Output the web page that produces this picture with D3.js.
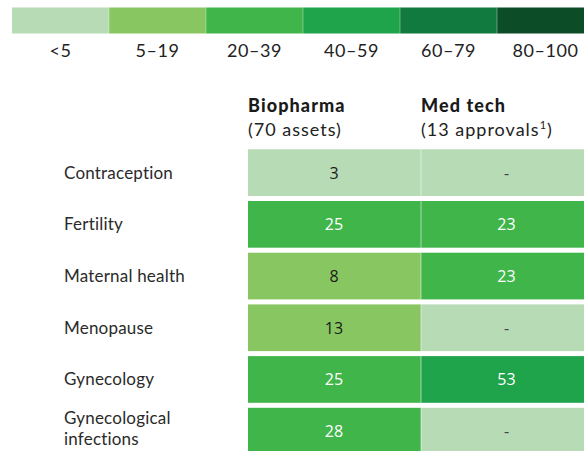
<!DOCTYPE html>
<html><head><meta charset="utf-8">
<script src="https://cdn.jsdelivr.net/npm/d3@7"></script>
<style>body{margin:0;background:#fff;overflow:hidden}svg{display:block}</style>
</head><body>
<script>
const legendLabels = ["<5","5–19","20–39","40–59","60–79","80–100"];
const legendColors = ["#b6dbb5","#88c661","#3fb54a","#1fa34b","#117a3f","#0c4d28"];
const thresholds = [5,20,40,60,80];
const categories = ["Contraception","Fertility","Maternal health","Menopause","Gynecology","Gynecological\ninfections"];
const columns = ["Biopharma","Med tech"];
const columnSub = ["(70 assets)","(13 approvals¹)"];
const biopharma = [3,25,8,13,25,28];
const medtech = [null,23,23,null,53,null];

const W=584,H=451;
const svg=d3.select("body").append("svg").attr("width",W).attr("height",H);
const color=d3.scaleThreshold().domain(thresholds).range(legendColors);
const labelFont="Lato, 'Open Sans', sans-serif";

// legend
const lx=d3.scaleBand().domain(legendLabels).range([12,12+6*97]);
const lg=svg.append("g");
lg.selectAll("rect").data(legendLabels).join("rect")
 .attr("x",d=>lx(d)).attr("y",7.5).attr("width",lx.bandwidth()).attr("height",26)
 .attr("fill",(d,i)=>legendColors[i]);
lg.selectAll("line").data(legendLabels.slice(1)).join("line")
 .attr("x1",d=>lx(d)).attr("x2",d=>lx(d)).attr("y1",7.5).attr("y2",33.5)
 .attr("stroke","rgba(255,255,255,0.35)").attr("stroke-width",1);
lg.selectAll("text").data(legendLabels).join("text")
 .attr("x",d=>lx(d)+lx.bandwidth()/2).attr("y",57)
 .attr("text-anchor","middle").attr("font-family",labelFont).attr("font-size",18)
 .attr("letter-spacing",0.6)
 .attr("fill","#222").text(d=>d);

// table
const x=d3.scaleBand().domain(columns).range([248,594]);
const y=d3.scaleBand().domain(categories).range([149.3,454.5]).paddingInner(0.097);

// headers
const hg=svg.append("g");
columns.forEach((c,i)=>{
  hg.append("text").attr("x",x(c)).attr("y",111.5).attr("font-family",labelFont)
   .attr("font-weight",900).attr("font-size",18).attr("letter-spacing",1.1).attr("fill","#1a1a1a").text(c);
  const t=hg.append("text").attr("x",x(c)).attr("y",136).attr("font-family",labelFont)
   .attr("font-size",18).attr("letter-spacing",1).attr("fill","#222");
  const s=columnSub[i];
  if(s.includes("¹")){
    t.append("tspan").text(s.replace("¹)",""));
    t.append("tspan").attr("font-size",11).attr("dy",-7).text("1");
    t.append("tspan").attr("dy",7).text(")");
  } else t.text(s);
});

// row labels
const rg=svg.append("g");
categories.forEach(c=>{
  const lines=c.split("\n");
  const cy=y(c)+y.bandwidth()/2;
  const t=rg.append("text").attr("font-family",labelFont).attr("font-size",17).attr("letter-spacing",0.2).attr("fill","#2a2a2a");
  lines.forEach((ln,j)=>{
    t.append("tspan").attr("x",64).attr("y",cy+6+(j-(lines.length-1)/2)*21+(lines.length>1?-2.5:0)).text(ln);
  });
});

// cells
const data=[];
categories.forEach((c,i)=>{
  data.push({row:c,col:"Biopharma",v:biopharma[i]});
  data.push({row:c,col:"Med tech",v:medtech[i]});
});
const cg=svg.append("g");
cg.selectAll("rect").data(data).join("rect")
 .attr("x",d=>x(d.col)).attr("y",d=>y(d.row)).attr("width",x.bandwidth()).attr("height",y.bandwidth())
 .attr("fill",d=>color(d.v==null?0:d.v));
cg.selectAll("line").data(categories).join("line")
 .attr("x1",x("Med tech")).attr("x2",x("Med tech")).attr("y1",d=>y(d)).attr("y2",d=>y(d)+y.bandwidth())
 .attr("stroke","rgba(255,255,255,0.45)").attr("stroke-width",1.2);
cg.selectAll("text").data(data).join("text")
 .attr("x",d=>x(d.col)+x.bandwidth()/2-(d.col==="Med tech"?1:0.5)).attr("y",d=>y(d.row)+y.bandwidth()/2+6)
 .attr("text-anchor","middle").attr("font-family","'Open Sans', sans-serif").attr("font-size",16)
 .attr("fill",d=>d.v==null?"#444":(d.v>=20?"#fff":"#1a1a1a"))
 .text(d=>d.v==null?"-":d.v);
</script>
</body></html>
